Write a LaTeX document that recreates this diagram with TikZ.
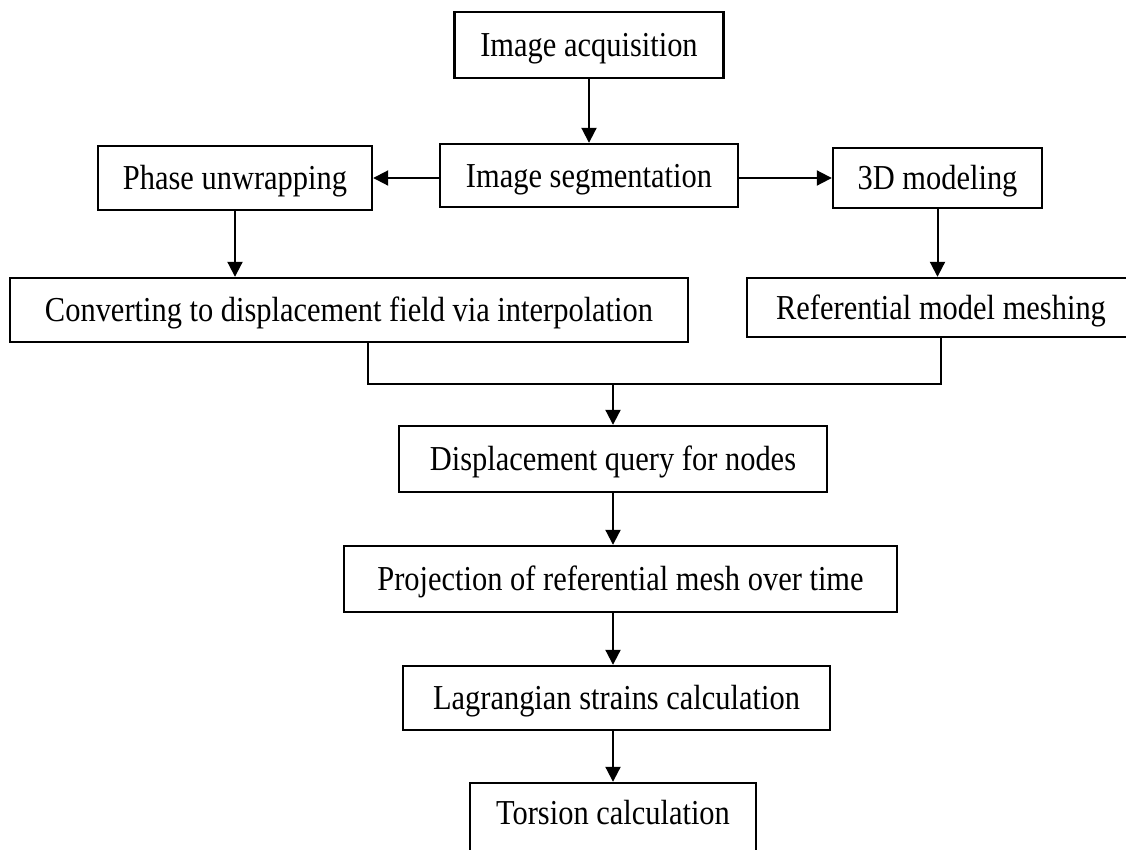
\documentclass[tikz,border=0pt]{standalone}
\usepackage{fontspec}
\setmainfont{Liberation Serif}[FakeStretch=0.87]
\usetikzlibrary{arrows.meta}

\tikzset{
  stepbox/.style={draw=black, line width=2.4pt, fill=white, inner sep=0pt,
    font=\fontsize{35}{40}\selectfont, text height=23pt, text depth=0pt},
  arr/.style={line width=2pt, -{Triangle[width=15pt,length=15pt]}},
  link/.style={line width=2pt}
}

\begin{document}
\begin{tikzpicture}[x=1pt,y=-1pt]
  \clip (0,0) rectangle (1126,849);
  \fill[white] (0,0) rectangle (1126,849);

  % first row
  \node[stepbox, minimum width=269pt, minimum height=66pt] (acq) at (589,45) {Image acquisition};
  % second row
  \node[stepbox, minimum width=298pt, minimum height=63pt] (seg) at (589,175.5) {Image segmentation};
  \node[stepbox, minimum width=274pt, minimum height=64pt] (phase) at (235,178) {Phase unwrapping};
  \node[stepbox, minimum width=209pt, minimum height=60pt] (model) at (937.5,178) {3D modeling};
  % third row
  \node[stepbox, minimum width=678pt, minimum height=64pt] (conv) at (349,310) {Converting to displacement field via interpolation};
  \node[stepbox, minimum width=388pt, minimum height=59pt] (mesh) at (941,307.5) {Referential model meshing};
  % main column
  \node[stepbox, minimum width=428pt, minimum height=66pt] (disp) at (613,459) {Displacement query for nodes};
  \node[stepbox, minimum width=553pt, minimum height=66pt] (proj) at (620.5,579) {Projection of referential mesh over time};
  \node[stepbox, minimum width=427pt, minimum height=64pt] (lag) at (616.5,698) {Lagrangian strains calculation};
  % last box runs past the lower edge
  \node[stepbox, text depth=14pt, minimum width=286pt, minimum height=73pt] (tors) at (613,819.5) {Torsion calculation};

  \coordinate (join) at (613,384);

  % connectors
  \draw[arr] (acq.south) -- (seg.north);
  \draw[arr] (seg.west |- phase.east) -- (phase.east);
  \draw[arr] (seg.east |- model.west) -- (model.west);
  \draw[arr] (phase.south) -- (phase.south |- conv.north);
  \draw[arr] (model.south) -- (model.south |- mesh.north);
  \draw[link] ([xshift=19pt]conv.south) |- (join) -| (mesh.south);
  \draw[arr] (join) -- (disp.north);
  \draw[arr] (disp.south) -- (disp.south |- proj.north);
  \draw[arr] (disp.south |- proj.south) -- (disp.south |- lag.north);
  \draw[arr] (tors.north |- lag.south) -- (tors.north);
\end{tikzpicture}
\end{document}
